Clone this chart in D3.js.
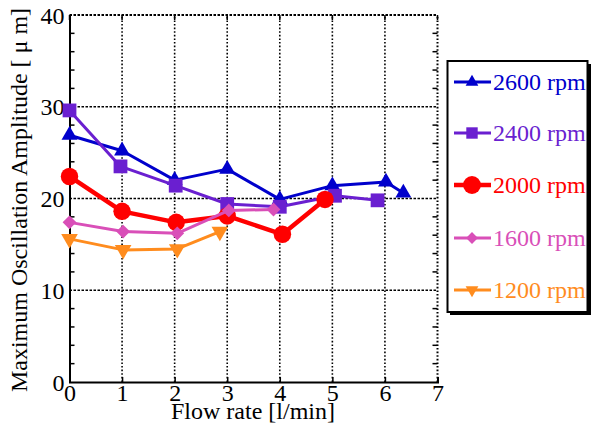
<!DOCTYPE html>
<html>
<head>
<meta charset="utf-8">
<script src="https://cdn.jsdelivr.net/npm/d3@7"></script>
<style>
  html, body { margin: 0; padding: 0; background: #fff; }
  svg { display: block; font-family: "Liberation Serif", "Times New Roman", serif; }
</style>
</head>
<body>
<svg id="chart" width="592" height="425"></svg>
<script>
// Flow-rate sweep data, one array per spindle speed
const seriesNames = ["2600 rpm", "2400 rpm", "2000 rpm", "1600 rpm", "1200 rpm"];
const flow2600 = [0, 1, 2, 3, 4, 5, 6.02, 6.35];
const amp2600  = [26.9, 25.2, 22.0, 23.2, 19.9, 21.4, 21.8, 20.6];
const flow2400 = [0, 0.97, 2.02, 3, 4, 5.05, 5.86];
const amp2400  = [29.6, 23.5, 21.4, 19.4, 19.1, 20.3, 19.8];
const flow2000 = [0, 1, 2.03, 3.0, 4.05, 4.86];
const amp2000  = [22.4, 18.6, 17.4, 18.1, 16.1, 19.9];
const flow1600 = [0, 1.02, 2.05, 3.03, 3.88];
const amp1600  = [17.4, 16.4, 16.2, 18.7, 18.8];
const flow1200 = [0, 1.02, 2.05, 2.86];
const amp1200  = [15.6, 14.4, 14.5, 16.4];
const xTicks = [0, 1, 2, 3, 4, 5, 6, 7];
const yTicks = [0, 10, 20, 30, 40];
const yMinor = [2, 4, 6, 8, 12, 14, 16, 18, 22, 24, 26, 28, 32, 34, 36, 38];

const styles = {
  "2600 rpm": { color: "#0000cc", width: 3,   symbol: d3.symbolTriangle, size: 110, rot: 0,   lsize: 70 },
  "2400 rpm": { color: "#6a1fd0", width: 3,   symbol: d3.symbolSquare,   size: 190, rot: 0,   lsize: 130 },
  "2000 rpm": { color: "#ff0000", width: 4.5, symbol: d3.symbolCircle,   size: 240, rot: 0,   lsize: 250 },
  "1600 rpm": { color: "#d94fb8", width: 3,   symbol: d3.symbolSquare,   size: 95,  rot: 45,  lsize: 70 },
  "1200 rpm": { color: "#ff8c1e", width: 3,   symbol: d3.symbolTriangle, size: 120, rot: 180, lsize: 70 }
};

const series = [
  { name: "2600 rpm", xs: flow2600, ys: amp2600 },
  { name: "2400 rpm", xs: flow2400, ys: amp2400 },
  { name: "2000 rpm", xs: flow2000, ys: amp2000 },
  { name: "1600 rpm", xs: flow1600, ys: amp1600 },
  { name: "1200 rpm", xs: flow1200, ys: amp1200 }
];

const svg = d3.select("#chart");
const x = d3.scaleLinear().domain([0, 7]).range([69.5, 437.5]);
const y = d3.scaleLinear().domain([0, 40]).range([382, 15]);
const serif = "Liberation Serif, Times New Roman, serif";

// grid
const grid = svg.append("g");
grid.selectAll("line.v").data(xTicks.slice(1, -1)).join("line")
  .attr("x1", d => x(d)).attr("x2", d => x(d))
  .attr("y1", y(0)).attr("y2", y(40))
  .attr("stroke", "#000").attr("stroke-width", 1.6).attr("stroke-dasharray", "1.6,2");
grid.selectAll("line.h").data(yTicks.slice(1, -1)).join("line")
  .attr("x1", x(0)).attr("x2", x(7))
  .attr("y1", d => y(d)).attr("y2", d => y(d))
  .attr("stroke", "#000").attr("stroke-width", 1.6).attr("stroke-dasharray", "2.5,1.5");

// frame: top and right dotted, left and bottom solid
svg.append("line").attr("x1", x(0)).attr("x2", x(7)).attr("y1", y(40)).attr("y2", y(40))
  .attr("stroke", "#000").attr("stroke-width", 2).attr("stroke-dasharray", "2.5,1.5");
svg.append("line").attr("x1", x(7)).attr("x2", x(7)).attr("y1", y(0)).attr("y2", y(40))
  .attr("stroke", "#000").attr("stroke-width", 2).attr("stroke-dasharray", "1.6,2");

// axes with inward ticks
const fontSize = 24;
const xAxis = d3.axisBottom(x).tickValues(xTicks).tickSize(-5).tickPadding(0).tickFormat(d3.format("d"));
const gx = svg.append("g").attr("transform", `translate(0,${y(0)})`).call(xAxis);
gx.select(".domain").attr("stroke-width", 2);
gx.selectAll(".tick line").attr("stroke-width", 1.5);
gx.selectAll("text").attr("font-size", fontSize).attr("fill", "#000").attr("font-family", serif)
  .attr("y", 19).attr("dy", null);

const yAxis = d3.axisLeft(y).tickValues(yTicks).tickSize(0).tickPadding(5).tickFormat(d3.format("d"));
const gy = svg.append("g").attr("transform", `translate(${x(0)},0)`).call(yAxis);
gy.select(".domain").attr("stroke-width", 2);
gy.selectAll("text").attr("font-size", fontSize).attr("fill", "#000").attr("font-family", serif)
  .attr("dy", null).attr("y", 8);

// minor ticks on both vertical sides
const minor = svg.append("g").attr("stroke", "#000").attr("stroke-width", 1.5);
minor.selectAll("line.l").data(yMinor).join("line")
  .attr("x1", x(0)).attr("x2", x(0) + 5).attr("y1", d => y(d)).attr("y2", d => y(d));
minor.selectAll("line.r").data(yMinor).join("line")
  .attr("x1", x(7)).attr("x2", x(7) - 5).attr("y1", d => y(d)).attr("y2", d => y(d));
minor.selectAll("line.t").data(xTicks).join("line")
  .attr("x1", d => x(d)).attr("x2", d => x(d)).attr("y1", y(40)).attr("y2", y(40) + 5);

// axis titles
svg.append("text").attr("x", 253).attr("y", 419).attr("text-anchor", "middle")
  .attr("font-size", fontSize).text("Flow rate [l/min]");
svg.append("text").attr("transform", `translate(27,${(395 + 5) / 2}) rotate(-90)`)
  .attr("text-anchor", "middle").attr("font-size", fontSize)
  .text("Maximum Oscillation Amplitude [ \u03bc m]");

// series
const line = d3.line().x(d => x(d[0])).y(d => y(d[1]));
series.forEach(s => {
  const st = styles[s.name];
  const pts = s.xs.map((v, i) => [v, s.ys[i]]);
  const g = svg.append("g");
  g.append("path").datum(pts).attr("d", line)
    .attr("fill", "none").attr("stroke", st.color).attr("stroke-width", st.width)
    .attr("stroke-linejoin", "round");
  g.selectAll("path.m").data(pts).join("path")
    .attr("d", d3.symbol().type(st.symbol).size(st.size))
    .attr("transform", d => `translate(${x(d[0])},${y(d[1])}) rotate(${st.rot})`)
    .attr("fill", st.color);
});

// legend
const lg = svg.append("g");
lg.append("rect").attr("x", 450).attr("y", 64).attr("width", 141).attr("height", 251).attr("fill", "#000");
lg.append("rect").attr("x", 447.5).attr("y", 61).attr("width", 140).attr("height", 251)
  .attr("fill", "#fff").attr("stroke", "#000").attr("stroke-width", 2);
const rowY = [82, 133, 185, 238, 290];
seriesNames.forEach((name, i) => {
  const st = styles[name];
  const cy = rowY[i];
  lg.append("line").attr("x1", 454).attr("x2", 491).attr("y1", cy).attr("y2", cy)
    .attr("stroke", st.color).attr("stroke-width", st.width);
  lg.append("path").attr("d", d3.symbol().type(st.symbol).size(st.lsize))
    .attr("transform", `translate(472,${cy}) rotate(${st.rot})`).attr("fill", st.color);
  lg.append("text").attr("x", 493).attr("y", cy + 8).attr("font-size", fontSize)
    .attr("fill", st.color).text(name);
});
</script>
</body>
</html>
